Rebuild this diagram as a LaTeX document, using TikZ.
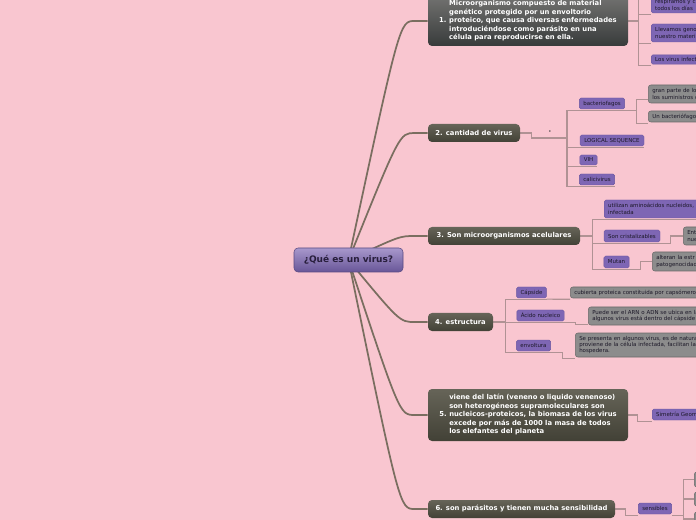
\documentclass[tikz,border=0pt]{standalone}
\usepackage{fontspec}
\setmainfont{DejaVu Sans}
\usetikzlibrary{calc,backgrounds}
\definecolor{bg}{RGB}{249,198,208}
\definecolor{rootT}{RGB}{168,152,204}
\definecolor{rootB}{RGB}{104,86,152}
\definecolor{rootTxt}{RGB}{40,30,60}
\definecolor{mainT}{RGB}{102,100,88}
\definecolor{mainB}{RGB}{66,65,54}
\definecolor{grayT}{RGB}{114,114,112}
\definecolor{grayB}{RGB}{56,59,59}
\definecolor{purp}{RGB}{126,102,180}
\definecolor{purpD}{RGB}{105,85,160}
\definecolor{grayF}{RGB}{140,140,140}
\definecolor{grayD}{RGB}{105,105,105}
\definecolor{subTxt}{RGB}{28,24,40}
\definecolor{mainLine}{RGB}{122,110,96}
\definecolor{subLine}{RGB}{176,146,148}
\newcommand{\fRoot}{\fontsize{6.75pt}{8pt}\selectfont\bfseries}
\newcommand{\fMain}{\fontsize{5.1pt}{6.4pt}\selectfont\bfseries}
\newcommand{\fSub}{\fontsize{4.1pt}{4.8pt}\selectfont}
\tikzset{
  sz/.style 2 args={minimum width=#1*0.75pt, minimum height=#2*0.75pt},
  rootbox/.style={rounded corners=3pt, top color=rootT, bottom color=rootB, draw=rootB!85!black, line width=0.4pt, font=\fRoot, text=rootTxt, inner sep=0pt},
  mainbox/.style={rounded corners=3pt, top color=mainT, bottom color=mainB, text=white, font=\fMain, inner sep=0pt},
  pbox/.style={rounded corners=1.2pt, fill=purp, draw=purpD, line width=0.3pt, text=subTxt, font=\fSub, inner xsep=3pt, inner ysep=0pt},
  gbox/.style={rounded corners=2pt, fill=grayF, draw=grayD, line width=0.4pt, text=subTxt, font=\fSub, inner xsep=3pt, inner ysep=0pt},
  cut/.style={anchor=west, text width=70pt, align=left},
  mline/.style={draw=mainLine, line width=1.3pt},
  sline/.style={draw=subLine, line width=0.8pt},
}
\begin{document}
\begin{tikzpicture}[x=0.75pt,y=-0.75pt]
\useasboundingbox (0,0) rectangle (696,520);
\clip (0,0) rectangle (696,520);
% root
\node[rootbox, sz={109}{24}] (root) at (348.5,260) {¿Qué es un virus?};
% main topics
\node[mainbox, sz={200}{50}, top color=grayT, bottom color=grayB] (n1) at (528,21) {1.\hspace{2pt}\begin{tabular}[c]{@{}l@{}}Microorganismo compuesto de material\\genético protegido por un envoltorio\\proteico, que causa diversas enfermedades\\introduciéndose como parásito en una\\célula para reproducirse en ella.\end{tabular}};
\node[mainbox, sz={92}{18}] (n2) at (474,133) {2. cantidad de virus};
\node[mainbox, sz={152}{18}] (n3) at (504,236) {3. Son microorganismos acelulares};
\node[mainbox, sz={65}{18}] (n4) at (460.5,322) {4. estructura};
\node[mainbox, sz={200}{52}] (n5) at (528,415) {5.\hspace{2pt}\begin{tabular}[c]{@{}l@{}}viene del latín (veneno o liquido venenoso)\\son heterogéneos supramoleculares son\\nucleicos-proteicos, la biomasa de los virus\\excede por más de 1000 la masa de todos\\los elefantes del planeta\end{tabular}};
\node[mainbox, sz={187}{18}] (n6) at (521.5,509) {6. son parásitos y tienen mucha sensibilidad};
% node 1 children
\node[pbox, cut, minimum height=12pt] (c1a) at (651,5) {respiramos y c\\todos los días};
\node[pbox, cut, minimum height=13.5pt] (c1b) at (651,33) {Llevamos geno\\nuestro materi};
\node[pbox, cut, minimum height=7pt] (c1c) at (651,59.5) {Los virus infect};
% node 2 children
\node[pbox, sz={44}{11}] (c2a) at (602,103.5) {bacteriofagos};
\node[pbox, sz={64}{11}] (c2b) at (612,140.5) {LOGICAL SEQUENCE};
\node[pbox, sz={17}{10}] (c2c) at (588.5,160) {VIH};
\node[pbox, sz={34}{11}] (c2d) at (597,179.5) {calicivirus};
\node[gbox, cut, minimum height=13.5pt] (g2a) at (648,94) {gran parte de lo\\los suministros d};
\node[gbox, cut, minimum height=8.25pt] (g2b) at (648,116.5) {Un bacteriófago};
\node[text=black!75, font=\fontsize{4pt}{4pt}\selectfont, inner sep=0pt] (dot) at (550,132) {•};
% node 3 children
\node[pbox, cut, minimum height=13.5pt] (c3a) at (604,209) {utilizan aminoácidos nucleidos,\\infectada};
\node[pbox, sz={56}{12}] (c3b) at (632,236) {Son cristalizables};
\node[pbox, sz={25}{12}] (c3c) at (616.5,262) {Mutan};
\node[gbox, cut, minimum height=13.5pt] (g3b) at (683,236) {Ent\\nue};
\node[gbox, cut, minimum height=14.25pt] (g3c) at (652,261.5) {alteran la estr\\patogenocidad};
% node 4 children
\node[pbox, sz={29}{11}] (c4a) at (531.5,292.5) {Cápside};
\node[pbox, sz={47}{11}] (c4b) at (540.5,315.5) {Ácido nucleico};
\node[pbox, sz={33}{11}] (c4c) at (533.5,345.5) {envoltura};
\node[gbox, cut, text width=120pt, minimum height=8.25pt] (g4a) at (570,292.5) {cubierta proteica constituida por capsómeros};
\node[gbox, cut, text width=120pt, minimum height=13.5pt] (g4b) at (588,316) {Puede ser el ARN o ADN se ubica en la\\algunos virus está dentro del cápside};
\node[gbox, cut, text width=120pt, minimum height=18pt] (g4c) at (575,345) {Se presenta en algunos virus, es de natura\\proviene de la célula infectada, facilitan la\\hospedera.};
% node 5 child
\node[pbox, cut, minimum height=8.25pt] (c5) at (652,414.5) {Simetría Geom};
% node 6 children
\node[pbox, sz={32}{11}] (c6) at (655,508.5) {sensibles};
\node[gbox, anchor=west, sz={20}{15}] (g6a) at (694,479.5) {};
\node[gbox, anchor=west, sz={20}{14}] (g6b) at (694,499) {};
\node[gbox, anchor=west, sz={20}{14}] (g6c) at (694,519) {};
\begin{pgfonlayer}{background}
\fill[bg] (0,0) rectangle (696,520);
\foreach \n in {n1,n2,n3,n4,n5,n6}
  \draw[mline] (root.center) .. controls ($(\n.west)+(-28,0)$) .. ($(\n.west)+(-13,0)$) -- (\n.west);
% node 1 connectors
\coordinate (j1) at ($(n1.east)+(10,0)$);
\coordinate (c1up) at ($(j1)+(0,-40)$);
\draw[sline] (n1.east) -- (j1) -- (c1up);
\foreach \c in {c1a,c1b,c1c}
  \draw[sline] (j1) |- ($(\c.south west)+(0,1)$);
% node 2 connectors
\coordinate (k2) at ($(n2.east)+(11,0)$);
\coordinate (j2) at (567,138);
\draw[sline] (n2.east) -- (k2) |- (j2);
\foreach \c in {c2a,c2b,c2c,c2d}
  \draw[sline] (j2) |- ($(\c.south west)+(0,1)$) -- ($(\c.south east)+(0,1)$);
\coordinate (jb) at ($(c2a.south east)+(12,1)$);
\draw[sline] ($(c2a.south east)+(0,1)$) -- (jb);
\draw[sline] (jb) |- ($(g2a.south west)+(0,-4)$);
\draw[sline] (jb) |- ($(g2b.south west)+(0,1)$);
% node 3 connectors
\coordinate (j3) at ($(n3.east)+(12,0)$);
\draw[sline] (n3.east) -- (j3);
\foreach \c in {c3a,c3b,c3c}
  \draw[sline] (j3) |- ($(\c.south west)+(0,1)$) -- ($(\c.south east)+(0,1)$);
\draw[sline] ($(c3b.south east)+(0,1)$) -- ++(10,0) |- (g3b.west);
\draw[sline] ($(c3c.south east)+(0,1)$) -- ++(11,0) |- (g3c.west);
% node 4 connectors
\coordinate (j4) at ($(n4.east)+(12,0)$);
\draw[sline] (n4.east) -- (j4);
\foreach \c in {c4a,c4b,c4c}
  \draw[sline] (j4) |- ($(\c.south west)+(0,1)$) -- ($(\c.south east)+(0,1)$);
\draw[sline] ($(c4a.south east)+(0,1)$) -- ($(g4a.south west)+(0,1)$);
\draw[sline] ($(c4b.south east)+(0,1)$) -- ++(11,0) |- ($(g4b.south west)+(0,-1)$);
\draw[sline] ($(c4c.south east)+(0,1)$) -- ++(12,0) |- ($(g4c.south west)+(0,1)$);
% node 5 connector
\draw[sline] (n5.east) -- ++(9,0) |- ($(c5.south west)+(0,1)$);
% node 6 connectors
\draw[sline] (n6.east) -- ++(10,0) |- ($(c6.south west)+(0,1)$);
\coordinate (j6) at ($(c6.south east)+(12,1)$);
\draw[sline] ($(c6.south east)+(0,1)$) -- (j6);
\foreach \c in {g6a,g6b,g6c}
  \draw[sline] (j6) |- (\c.west);
\end{pgfonlayer}
\end{tikzpicture}
\end{document}
